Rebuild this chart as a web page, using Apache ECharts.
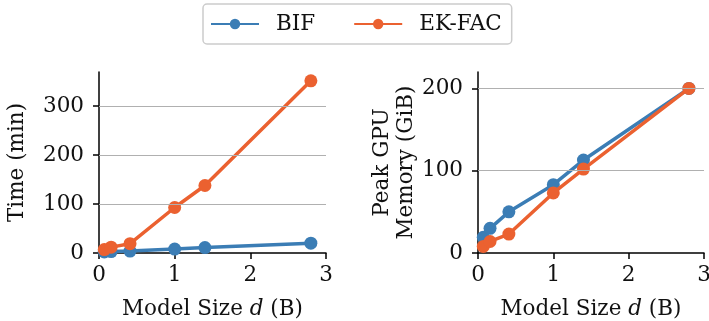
<!DOCTYPE html>
<html>
<head>
<meta charset="utf-8">
<script src="https://cdn.jsdelivr.net/npm/echarts@6/dist/echarts.min.js"></script>
<style>
  html, body { margin: 0; padding: 0; background: #fff; }
  #chart { width: 709px; height: 321px; }
</style>
</head>
<body>
<div id="chart"></div>
<script>
// Model sizes (billions of params)
const modelSizes = [0.07, 0.16, 0.41, 1.0, 1.4, 2.8];

// Left panel: time (min)
const timeBIF = [2, 3, 4, 8, 11, 20];
const timeEKFAC = [7, 12, 19, 93, 138, 352];

// Right panel: peak GPU memory (GiB)
const memBIF = [19, 30, 50, 83, 113, 200];
const memEKFAC = [8, 14, 23, 73, 102, 200];

const timeTicks = [0, 100, 200, 300];
const memTicks = [0, 100, 200];
const xTicks = [0, 1, 2, 3];

const BLUE = '#3b7db5';
const ORANGE = '#eb6130';
const FONT = 'DejaVu Serif';
const FS = 21.5;
const TXT = '#111';

const chart = echarts.init(document.getElementById('chart'));

const pairs = (xs, ys) => xs.map((x, i) => [x, ys[i]]);

function xAxisCfg(idx) {
    return {
        type: 'value',
        gridIndex: idx,
        min: 0,
        max: 3,
        interval: 1,
        name: '{n|Model Size }{i|d}{n| (B)}',
        nameLocation: 'middle',
        nameGap: 45,
        nameTextStyle: {
            rich: {
                n: { fontFamily: FONT, fontSize: FS, color: TXT },
                i: { fontFamily: FONT, fontSize: FS, color: TXT, fontStyle: 'italic' }
            }
        },
        axisLine: { show: true, lineStyle: { color: '#000', width: 1.5 } },
        axisTick: { show: true, length: 6, lineStyle: { color: '#000', width: 1.5 }, customValues: xTicks },
        axisLabel: { fontFamily: FONT, fontSize: FS, color: TXT, margin: 11, customValues: xTicks },
        splitLine: { show: false }
    };
}

function yAxisCfg(idx, max, ticks, name, gap) {
    return {
        type: 'value',
        gridIndex: idx,
        min: 0,
        max: max,
        interval: 100,
        name: name,
        nameLocation: 'middle',
        nameGap: gap,
        nameTextStyle: { fontFamily: FONT, fontSize: FS, color: TXT, lineHeight: 24 },
        axisLine: { show: true, lineStyle: { color: '#000', width: 1.5 } },
        axisTick: { show: true, length: 6, lineStyle: { color: '#000', width: 1.5 }, customValues: ticks },
        axisLabel: { fontFamily: FONT, fontSize: FS, color: TXT, margin: 15, customValues: ticks },
        splitLine: { show: false }
    };
}

function gridLines(ticks) {
    return {
        silent: true,
        symbol: 'none',
        label: { show: false },
        lineStyle: { color: '#b0b0b0', width: 1.2, type: 'solid' },
        data: ticks.filter(t => t > 0).map(t => ({ yAxis: t }))
    };
}

function lineSeries(name, color, xi, data, marks) {
    const s = {
        name: name,
        type: 'line',
        xAxisIndex: xi,
        yAxisIndex: xi,
        data: data,
        symbol: 'circle',
        symbolSize: 13,
        lineStyle: { color: color, width: 3.5 },
        itemStyle: { color: color },
        z: name === 'EK-FAC' ? 3 : 2
    };
    if (marks) s.markLine = marks;
    return s;
}

const option = {
    animation: false,
    backgroundColor: '#fff',
    legend: {
        top: 4,
        left: 203,
        data: ['BIF', 'EK-FAC'],
        itemWidth: 48,
        itemHeight: 13,
        itemGap: 38,
        padding: [9, 10, 9, 7],
        borderColor: '#cccccc',
        borderWidth: 1.5,
        borderRadius: 4,
        textStyle: { fontFamily: FONT, fontSize: FS, color: TXT, padding: [0, 0, 0, 12] }
    },
    grid: [
        { left: 99, top: 72, width: 227, height: 181, outerBoundsMode: 'none' },
        { left: 478, top: 72, width: 226, height: 181, outerBoundsMode: 'none' }
    ],
    xAxis: [xAxisCfg(0), xAxisCfg(1)],
    yAxis: [
        yAxisCfg(0, 370, timeTicks, 'Time (min)', 70),
        yAxisCfg(1, 220, memTicks, 'Peak GPU\nMemory (GiB)', 60)
    ],
    series: [
        lineSeries('BIF', BLUE, 0, pairs(modelSizes, timeBIF), gridLines(timeTicks)),
        lineSeries('EK-FAC', ORANGE, 0, pairs(modelSizes, timeEKFAC)),
        lineSeries('BIF', BLUE, 1, pairs(modelSizes, memBIF), gridLines(memTicks)),
        lineSeries('EK-FAC', ORANGE, 1, pairs(modelSizes, memEKFAC))
    ]
};

chart.setOption(option);
window.addEventListener('resize', () => chart.resize());
</script>
</body>
</html>
